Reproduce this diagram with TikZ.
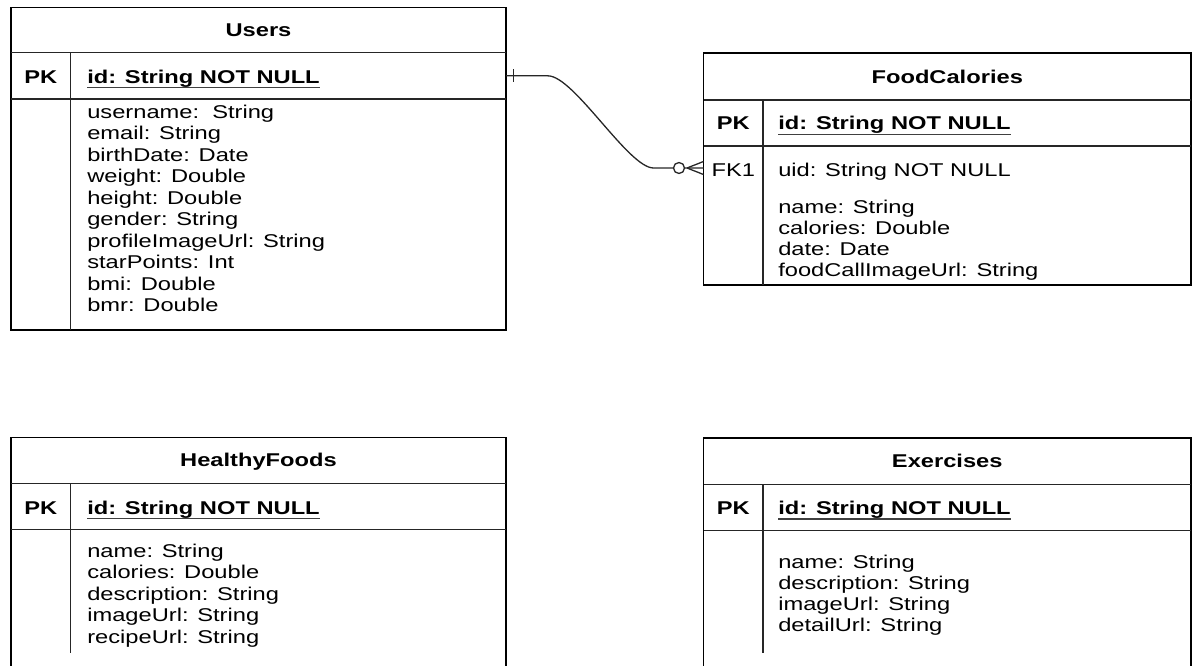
\documentclass[tikz,border=0pt]{standalone}
\usepackage{fontspec}
\setmainfont{Liberation Sans}[FakeStretch=1.28]
\usetikzlibrary{calc}
\begin{document}
\begin{tikzpicture}[x=1pt,y=-1pt,
  frame/.style={draw=black, line width=1.3pt, inner sep=0pt, outer sep=0pt, anchor=north west},
  sep/.style={draw=black!85, line width=1.3pt},
  row/.style={inner sep=0pt, outer sep=0pt},
  txt/.style={inner sep=0pt, outer sep=0pt, text=black, font=\fontsize{18.5}{21.5}\selectfont},
  attr/.style={txt, anchor=base west},
  keycell/.style={txt, anchor=base, font=\fontsize{18.5}{21.5}\selectfont\bfseries},
  pkfield/.style={txt, anchor=base west, font=\fontsize{18.5}{21.5}\selectfont\bfseries},
  uline/.style={draw=black!75, line width=1.2pt},
  conn/.style={draw=black!85, line width=1.3pt}
]
\useasboundingbox (0,0) rectangle (1192,666);
\clip (0,0) rectangle (1192,666);

% ---------------- Users ----------------
\node[frame, minimum width=495pt, minimum height=322.7pt] (users) at (11,7.3) {};
\draw[sep] (11,52.7) -- (506,52.7);
\draw[sep] (11,99) -- (506,99);
\draw[sep] (70.7,52.7) -- (70.7,330);
\node[row, anchor=north west, minimum width=495pt, minimum height=46.3pt] (usersPK) at (11,52.7) {};
\node[keycell] (usersT) at (258.5,36.6) {Users};
\node[keycell] (usersK) at (40.85,83.3) {PK};
\node[pkfield] (usersId) at (87.3,83.3) {id: String NOT NULL};
\draw[uline] ($(usersId.base west)+(0,4.4)$) -- ($(usersId.base east)+(0,4.4)$);
\foreach \t [count=\i] in {username:~~String, email: String, birthDate: Date,
    weight: Double, height: Double, gender: String, profileImageUrl: String,
    starPoints: Int, bmi: Double, bmr: Double}
  \node[attr] (ua\i) at (87.3,{118.3+21.5*(\i-1)}) {\t};

% ---------------- FoodCalories ----------------
\node[frame, minimum width=487.5pt, minimum height=232pt] (food) at (703.5,53) {};
\draw[sep] (703.5,100) -- (1191,100);
\draw[sep] (703.5,146) -- (1191,146);
\draw[sep] (763,100) -- (763,285);
\node[row, anchor=west, minimum width=487.5pt, minimum height=44pt] (foodFK) at (703.5,168) {};
\node[keycell] (foodT) at (947.25,83.1) {FoodCalories};
\node[keycell] (foodK) at (733.25,130) {PK};
\node[pkfield] (foodId) at (778.3,130) {id: String NOT NULL};
\draw[uline] ($(foodId.base west)+(0,4.4)$) -- ($(foodId.base east)+(0,4.4)$);
\node[txt, anchor=base] (foodFKlbl) at (733.25,176) {FK1};
\node[attr] (foodUid) at (778.3,176) {uid: String NOT NULL};
\foreach \t [count=\i] in {name: String, calories: Double, date: Date, foodCallImageUrl: String}
  \node[attr] (fa\i) at (778.3,{213.3+21.2*(\i-1)}) {\t};

% ---------------- HealthyFoods ----------------
\node[frame, minimum width=495pt, minimum height=260pt] (healthy) at (11,437.3) {};
\draw[sep] (11,483.3) -- (506,483.3);
\draw[sep] (11,529.3) -- (506,529.3);
\draw[sep] (70.7,483.3) -- (70.7,652.7);
\node[keycell] (healthyT) at (258.5,466.9) {HealthyFoods};
\node[keycell] (healthyK) at (40.85,514) {PK};
\node[pkfield] (healthyId) at (87.3,514) {id: String NOT NULL};
\draw[uline] ($(healthyId.base west)+(0,4.4)$) -- ($(healthyId.base east)+(0,4.4)$);
\foreach \t [count=\i] in {name: String, calories: Double, description: String,
    imageUrl: String, recipeUrl: String}
  \node[attr] (ha\i) at (87.3,{557.3+21.5*(\i-1)}) {\t};

% ---------------- Exercises ----------------
\node[frame, minimum width=487.5pt, minimum height=260pt] (exer) at (703.5,438) {};
\draw[sep] (703.5,484.5) -- (1191,484.5);
\draw[sep] (703.5,530.5) -- (1191,530.5);
\draw[sep] (763,484.5) -- (763,653);
\node[keycell] (exerT) at (947.25,467.3) {Exercises};
\node[keycell] (exerK) at (733.25,514.5) {PK};
\node[pkfield] (exerId) at (778.3,514.5) {id: String NOT NULL};
\draw[uline] ($(exerId.base west)+(0,4.4)$) -- ($(exerId.base east)+(0,4.4)$);
\foreach \t [count=\i] in {name: String, description: String, imageUrl: String, detailUrl: String}
  \node[attr] (ea\i) at (778.3,{568+21.3*(\i-1)}) {\t};

% ---------------- relation Users 1 -- 0..* FoodCalories ----------------
\draw[conn] (usersPK.east) -- ++(42,0)
  .. controls +(26,0) and +(-25,0) .. ($(foodFK.west)+(-50,0)$)
  -- (foodFK.west);
% one (mandatory) mark at the Users end
\draw[conn] ($(usersPK.east)+(7.3,-6.5)$) -- ($(usersPK.east)+(7.3,6.5)$);
% zero-or-many mark at the FoodCalories end
\draw[conn, fill=white] ($(foodFK.west)+(-24.5,0)$) circle (5.5pt);
\draw[conn] ($(foodFK.west)+(-16.5,0)$) -- ($(foodFK.west)+(0,-6.5)$)
            ($(foodFK.west)+(-16.5,0)$) -- ($(foodFK.west)+(0,6.5)$);
\end{tikzpicture}
\end{document}
